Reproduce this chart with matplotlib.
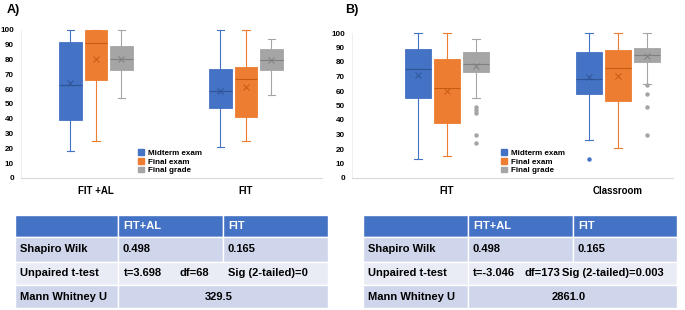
import matplotlib
matplotlib.use("Agg")
import matplotlib.pyplot as plt
from matplotlib.patches import Patch, Rectangle

plt.rcParams['font.family'] = ['Liberation Sans', 'DejaVu Sans']

series = ["Midterm exam", "Final exam", "Final grade"]
colors = ["#4472C4", "#ED7D31", "#A5A5A5"]
dark = ["#2F5597", "#C55A11", "#7F7F7F"]

# panel A: groups FIT +AL, FIT ; per series [whislo, q1, med, q3, whishi, mean]
cats_a = ["FIT +AL", "FIT"]
midterm_a = [[18, 39.5, 63, 92, 100, 64], [21, 47, 58.5, 73.5, 100, 59]]
final_a = [[25, 66.5, 91.5, 100, 100, 80.5], [25, 41.5, 67, 75, 100, 61.5]]
grade_a = [[54, 73, 80.5, 89.5, 100, 80.5], [56, 73, 80, 87, 94, 80]]
fliers_a = [[[], [], []], [[], [], []]]

# panel B: groups FIT, Classroom
cats_b = ["FIT", "Classroom"]
midterm_b = [[13, 55, 75, 89, 100, 71], [26, 58, 68, 87, 100, 70]]
final_b = [[15, 38, 62, 82, 100, 60], [21, 53, 76, 88, 100, 70.5]]
grade_b = [[55, 73, 78.5, 87, 96, 77], [65, 80, 85, 90, 100, 84]]
fliers_b = [[[], [], [49, 47, 45, 30, 24]], [[13], [], [64, 58, 49, 30]]]

# tables
tbl_header = ["", "FIT+AL", "FIT"]
shapiro = ["Shapiro Wilk", "0.498", "0.165"]
ttest_a = ["t=3.698", "df=68", "Sig (2-tailed)=0"]
ttest_b = ["t=-3.046", "df=173", "Sig (2-tailed)=0.003"]
mann_a = "329.5"
mann_b = "2861.0"

fig = plt.figure(figsize=(6.85, 3.1), dpi=100)


def box_panel(rect, cats, groups, fliers, xlim):
    ax = fig.add_axes(rect)
    off = [-0.17, 0, 0.17]
    for s in range(3):
        stats = []
        pos = []
        for g in range(len(cats)):
            lo, q1, med, q3, hi, mean = groups[s][g]
            stats.append(dict(whislo=lo, q1=q1, med=med, q3=q3, whishi=hi,
                              mean=mean, fliers=fliers[g][s]))
            pos.append(g + 1 + off[s])
        ax.bxp(stats, positions=pos, widths=0.15, capwidths=0.05,
               showmeans=True, patch_artist=True, manage_ticks=False,
               boxprops=dict(facecolor=colors[s], edgecolor=colors[s], linewidth=0.6),
               medianprops=dict(color=dark[s], linewidth=0.8),
               whiskerprops=dict(color=colors[s], linewidth=0.8),
               capprops=dict(color=colors[s], linewidth=0.8),
               meanprops=dict(marker='x', markeredgecolor=dark[s], markersize=4,
                              markeredgewidth=0.7),
               flierprops=dict(marker='o', markerfacecolor=colors[s],
                               markeredgecolor=colors[s], markersize=2.2))
    ax.set_xlim(*xlim)
    ax.set_ylim(0, 100)
    ax.set_yticks(range(0, 101, 10))
    ax.set_xticks([1, 2])
    ax.set_xticklabels(cats, fontsize=7, fontweight='bold')
    for lab in ax.get_yticklabels():
        lab.set_fontweight('bold')
        lab.set_fontsize(5.8)
    ax.tick_params(axis='both', length=0, pad=5)
    ax.tick_params(axis='x', pad=6)
    for sp in ['right', 'top']:
        ax.spines[sp].set_visible(False)
    ax.spines['left'].set_color('#EDEDED')
    ax.spines['left'].set_linewidth(0.6)
    ax.spines['bottom'].set_color('#D9D9D9')
    ax.spines['bottom'].set_linewidth(0.8)
    for art in ax.patches + ax.lines:
        art.set_clip_on(False)
    return ax


ax_a = box_panel([21 / 685, 1 - 178 / 310, 301 / 685, 148 / 310], cats_a,
                 [midterm_a, final_a, grade_a], fliers_a, (0.5, 2.507))
ax_b = box_panel([352 / 685, 1 - 178 / 310, 321 / 685, 145 / 310], cats_b,
                 [midterm_b, final_b, grade_b], fliers_b, (0.444, 2.321))

handles = [Patch(facecolor=c, edgecolor=c, label=l) for c, l in zip(colors, series)]
for lx in [134 / 685, 497 / 685]:
    fig.legend(handles=handles, loc='upper left', bbox_to_anchor=(lx, 1 - 145 / 310),
               frameon=False, handlelength=0.7, handleheight=0.7,
               handletextpad=0.5, labelspacing=0.15, borderpad=0,
               prop=dict(weight='bold', size=5.8))

fig.text(7 / 685, 1 - 10 / 310, "A)", fontsize=9, fontweight='bold', va='center')
fig.text(345 / 685, 1 - 10 / 310, "B)", fontsize=9, fontweight='bold', va='center')

# tables drawn in pixel space
tx = fig.add_axes([0, 0, 1, 1])
tx.set_xlim(0, 685)
tx.set_ylim(310, 0)
tx.axis('off')

rows_y = [215, 237, 262, 285, 308]
row_fc = ["#4472C4", "#CFD5EA", "#E9EBF5", "#CFD5EA"]


def draw_table(x0, c1, c2, x1, ttest, tpos, mann):
    cols = [x0, c1, c2, x1]
    for r in range(4):
        y0, y1 = rows_y[r], rows_y[r + 1]
        spans = [(x0, c1), (c1, c2), (c2, x1)] if r < 2 else [(x0, c1), (c1, x1)]
        for a, b in spans:
            tx.add_patch(Rectangle((a, y0), b - a, y1 - y0,
                                   facecolor=row_fc[r], edgecolor='white', linewidth=1))
    mid = [(rows_y[i] + rows_y[i + 1]) / 2 for i in range(4)]
    for c in range(1, 3):
        tx.text(cols[c] + 5, mid[0], tbl_header[c], color='white', fontsize=8,
                fontweight='bold', va='center')
    tx.text(x0 + 5, mid[1], shapiro[0], fontsize=8, fontweight='bold', va='center')
    tx.text(c1 + 5, mid[1], shapiro[1], fontsize=8, fontweight='bold', va='center')
    tx.text(c2 + 5, mid[1], shapiro[2], fontsize=8, fontweight='bold', va='center')
    tx.text(x0 + 5, mid[2], "Unpaired t-test", fontsize=8, fontweight='bold', va='center')
    for t, px in zip(ttest, tpos):
        tx.text(px, mid[2], t, fontsize=8, fontweight='bold', va='center')
    tx.text(x0 + 5, mid[3], "Mann Whitney U", fontsize=8, fontweight='bold', va='center')
    tx.text((c1 + x1) / 2 - 4, mid[3], mann, fontsize=8, fontweight='bold',
            va='center', ha='center')


draw_table(15, 118, 223, 328, ttest_a, [124, 180, 228], mann_a)
draw_table(363, 468, 573, 677, ttest_b, [473, 525, 562], mann_b)

fig.savefig("out.png", dpi=100)
